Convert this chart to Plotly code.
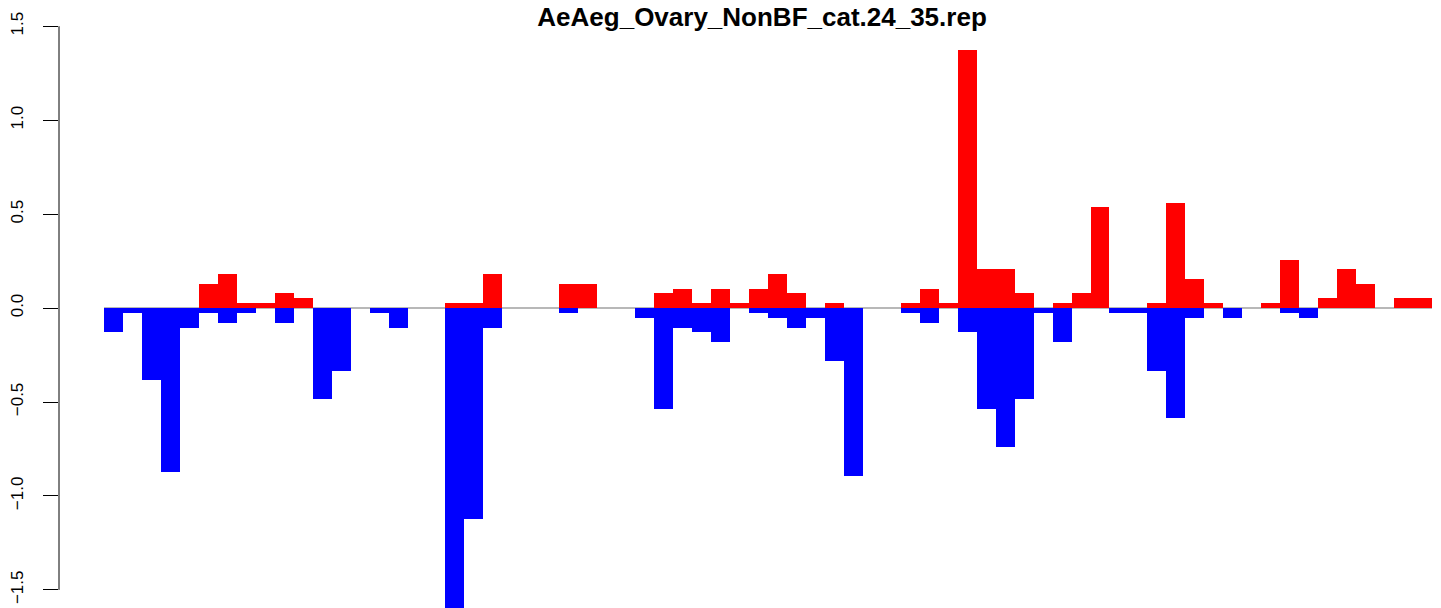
import plotly.graph_objects as go

title_text = "AeAeg_Ovary_NonBF_cat.24_35.rep"

# bin index along the x direction (70 contiguous bars)
bins = list(range(70))

# positive component (red)
pos_vals = [
    0, 0, 0, 0, 0, 0.126, 0.179, 0.025, 0.025, 0.078,
    0.051, 0, 0, 0, 0, 0, 0, 0, 0.025, 0.025,
    0.179, 0, 0, 0, 0.126, 0.126, 0, 0, 0, 0.078,
    0.099, 0.025, 0.099, 0.025, 0.099, 0.179, 0.078, 0, 0.025, 0,
    0, 0, 0.025, 0.099, 0.025, 1.371, 0.206, 0.206, 0.078, 0,
    0.025, 0.078, 0.536, 0, 0, 0.025, 0.557, 0.153, 0.025, 0,
    0, 0.025, 0.254, 0, 0.051, 0.206, 0.126, 0, 0.051, 0.051,
]

# negative component (blue)
neg_vals = [
    -0.13, -0.028, -0.385, -0.87, -0.108, -0.028, -0.082, -0.028, 0, -0.082,
    0, -0.484, -0.335, 0, -0.028, -0.108, 0, 0, -1.6, -1.123,
    -0.108, 0, 0, 0, -0.028, 0, 0, 0, -0.055, -0.537,
    -0.108, -0.13, -0.183, 0, -0.028, -0.055, -0.108, -0.055, -0.282, -0.896,
    0, 0, -0.028, -0.082, 0, -0.13, -0.539, -0.742, -0.486, -0.028,
    -0.183, 0, 0, -0.028, -0.028, -0.337, -0.586, -0.055, 0, -0.055,
    0, 0, -0.028, -0.055, 0, 0, 0, 0, 0, 0,
]

y_ticks = [-1.5, -1.0, -0.5, 0.0, 0.5, 1.0, 1.5]
y_tick_text = ["\u22121.5", "\u22121.0", "\u22120.5", "0.0", "0.5", "1.0", "1.5"]

FONT = "Liberation Sans, Arial, Helvetica, sans-serif"

fig = go.Figure()
fig.add_trace(go.Bar(x=bins, y=pos_vals, marker=dict(color="#FF0000", line=dict(width=0)),
                     width=1.0, showlegend=False, hoverinfo="y"))
fig.add_trace(go.Bar(x=bins, y=neg_vals, marker=dict(color="#0000FF", line=dict(width=0)),
                     width=1.0, showlegend=False, hoverinfo="y"))

# grey baseline across the bars (drawn underneath)
fig.add_shape(type="line", xref="x", yref="y", x0=bins[0] - 0.5, x1=bins[-1] + 0.5, y0=0, y1=0,
              line=dict(color="#A0A0A0", width=1.5), layer="below")
# y axis line from first to last tick, like base R
fig.add_shape(type="line", xref="paper", yref="y", x0=0, x1=0, y0=y_ticks[0], y1=y_ticks[-1],
              line=dict(color="black", width=1))

fig.update_layout(
    width=1441, height=608,
    margin=dict(l=51, r=0, t=0, b=0, pad=0, autoexpand=False),
    paper_bgcolor="white", plot_bgcolor="white",
    barmode="relative", bargap=0,
    font=dict(family=FONT, color="black"),
    title=dict(text="<b>" + title_text + "</b>", xref="paper", x=0.5058, xanchor="center",
               yref="container", y=1 - 9 / 608, yanchor="middle",
               font=dict(family=FONT, size=26, color="black"), automargin=False),
    xaxis=dict(range=[-2.872, 70.396], visible=False, showgrid=False, zeroline=False,
               automargin=False),
    yaxis=dict(range=[-1.639, 1.597], tickvals=y_ticks, ticktext=y_tick_text,
               tickangle=-90, ticks="outside", ticklen=15, tickwidth=1, tickcolor="black",
               showline=False, showgrid=False, zeroline=False, automargin=False,
               tickfont=dict(family=FONT, size=17, color="black"),
               ticklabelstandoff=13),
)

fig.write_html("out.html")
